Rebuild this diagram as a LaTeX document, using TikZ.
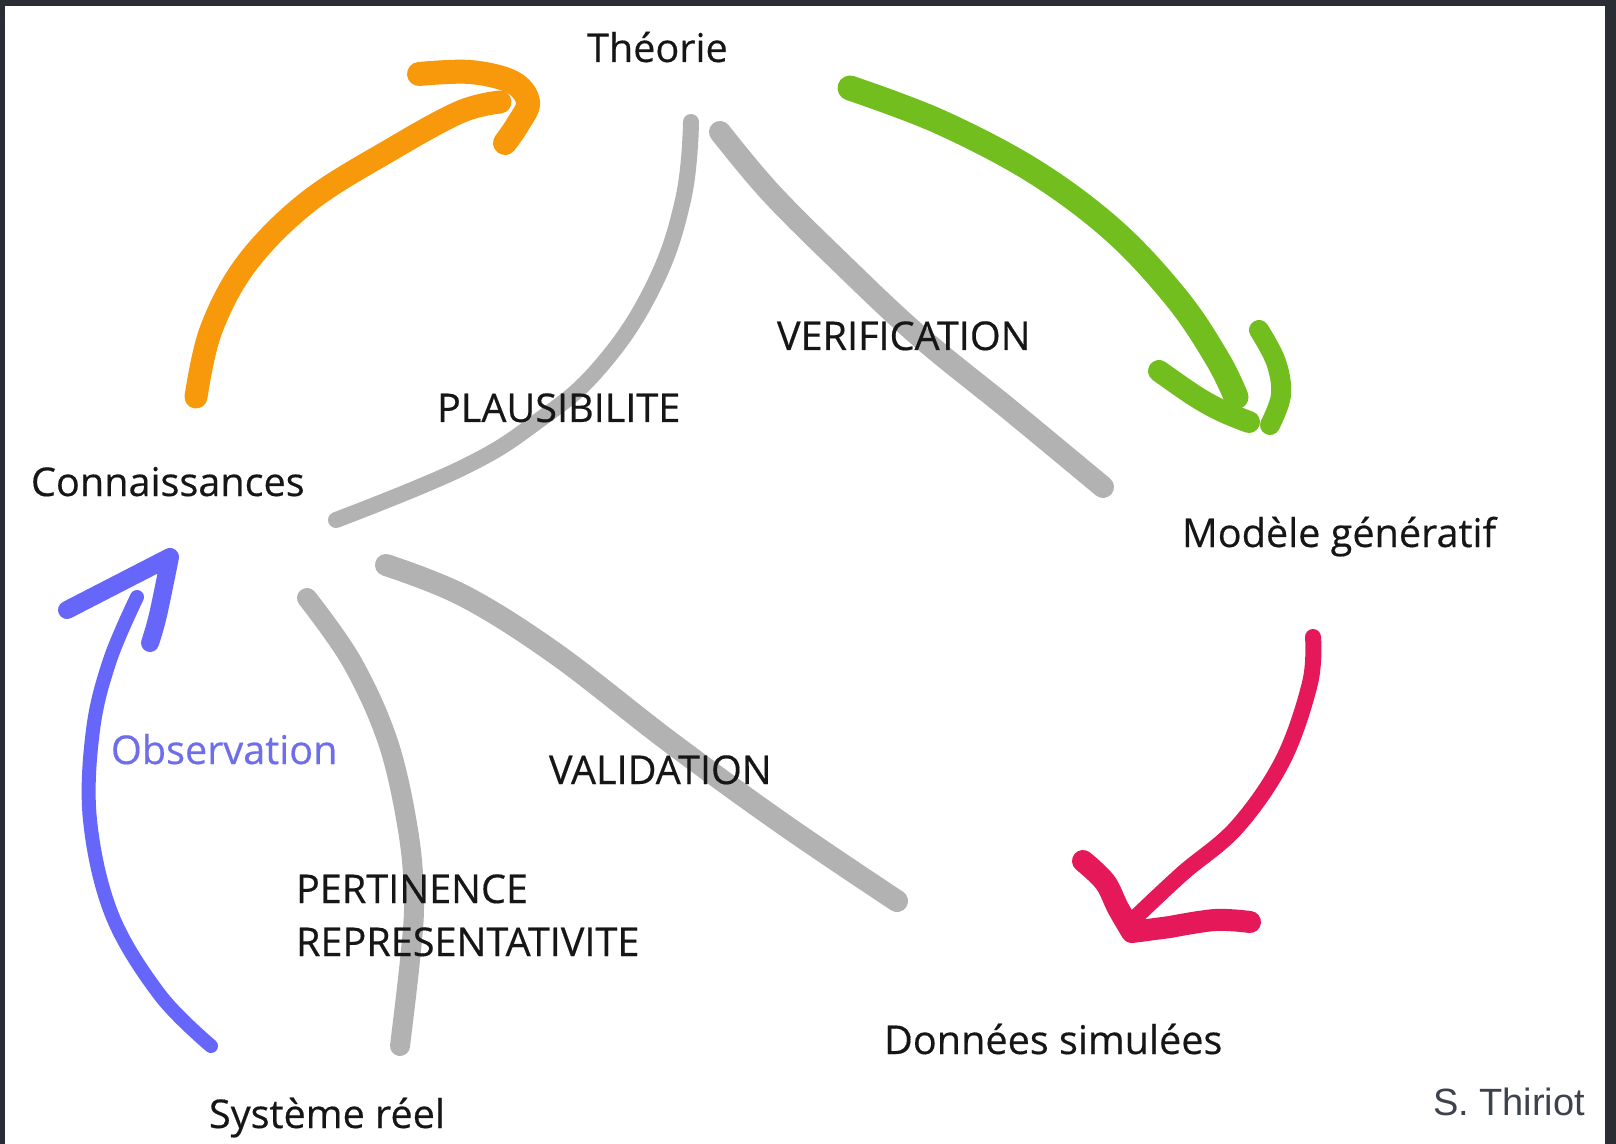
\documentclass[tikz,border=0pt]{standalone}
\usepackage{fontspec}
\setmainfont{Open Sans}
\newfontfamily\lblfont{Open Sans}[FakeBold=0.4]
\newfontfamily\credfont{Liberation Sans}
\definecolor{framec}{RGB}{42,45,52}
\definecolor{txtc}{RGB}{22,22,22}
\definecolor{grayc}{RGB}{178,178,178}
\definecolor{orangec}{RGB}{247,153,10}
\definecolor{greenc}{RGB}{114,190,30}
\definecolor{pinkc}{RGB}{229,25,90}
\definecolor{bluec}{RGB}{102,102,250}
\definecolor{obsc}{RGB}{110,110,235}
\definecolor{credc}{RGB}{62,66,76}
\begin{document}
\begin{tikzpicture}[x=0.5pt,y=-0.5pt,
  lbl/.style={inner sep=0pt, outer sep=0pt, anchor=base west, text=txtc,
              font=\lblfont\fontsize{19.8}{23}\selectfont},
  stroke/.style={line cap=round, line join=round},
  graystroke/.style={stroke, draw=grayc},
  smoothplot/.style={smooth, tension=0.6}]
\useasboundingbox (0,0) rectangle (1616,1144);
\fill[framec] (0,0) rectangle (1616,1144);
\fill[white] (5,6) rectangle (1605,1144);

% named end points
\coordinate (orS) at (196,397);  \coordinate (orE) at (500,102);
\coordinate (orH1) at (419,74);  \coordinate (orH2) at (505,143);
\coordinate (grS) at (850,88);   \coordinate (grE) at (1236,397);
\coordinate (grL1) at (1159,371); \coordinate (grL2) at (1249,422);
\coordinate (grR1) at (1259,330); \coordinate (grR2) at (1270,425);
\coordinate (pkS) at (1313,637); \coordinate (pkE) at (1138,915);
\coordinate (pkH1) at (1083,861); \coordinate (pkH2) at (1250,922);
\coordinate (blS) at (211,1046); \coordinate (blE) at (137,597);
\coordinate (blH1) at (67,610);  \coordinate (blH2) at (150,643);
\coordinate (plS) at (691,122);  \coordinate (plE) at (336,520);
\coordinate (veS) at (720,132);  \coordinate (veE) at (1103,487);
\coordinate (vaS) at (386,565);  \coordinate (vaE) at (897,901);
\coordinate (peS) at (307,598);  \coordinate (peE) at (400,1046);

% gray links (under the labels)
\draw[graystroke, line width=8pt] plot[smooth, tension=0.7] coordinates
  {(plS) (683,200) (653,287) (600,367) (538,421) (462,468) (plE)};
\draw[graystroke, line width=11pt] plot[smoothplot] coordinates
  {(veS) (770,192) (840,262) (920,337) (1010,410) (veE)};
\draw[graystroke, line width=11pt] plot[smoothplot] coordinates
  {(vaS) (464,596) (556,654) (670,742) (783,824) (vaE)};
\draw[graystroke, line width=10pt] plot[smoothplot] coordinates
  {(peS) (352,662) (388,742) (408,830) (414,900) (410,960) (peE)};

% labels
\node[lbl] (theorie) at (587,62) {Théorie};
\node[lbl] (conn) at (31,496) {Connaissances};
\node[lbl] (modele) at (1182,547) {Modèle génératif};
\node[lbl] (donnees) at (884,1054) {Données simulées};
\node[lbl] (systeme) at (209,1128) {Système réel};
\node[lbl, text=obsc] (obs) at (111,764) {Observation};
\node[lbl] (plaus) at (437,422) {PLAUSIBILITE};
\node[lbl] (verif) at (777,350) {VERIFICATION};
\node[lbl] (valid) at (549,784) {VALIDATION};
\node[lbl] (pert) at (296,903) {PERTINENCE};
\node[lbl] (repr) at (296,956) {REPRESENTATIVITE};
\node[lbl, text=credc, font=\credfont\fontsize{19}{22}\selectfont] (cred) at (1433,1115) {S. Thiriot};

% orange arrow (Connaissances -> Theorie)
\draw[stroke, draw=orangec, line width=11.5pt] plot[smoothplot] coordinates
  {(orS) (211,330) (247,263) (309,201) (392,149) (460,112) (orE)};
\draw[stroke, draw=orangec, line width=12pt] plot[smoothplot] coordinates
  {(orH1) (470,72) (512,82) (528,102) (518,124) (orH2)};

% green arrow (Theorie -> Modele)
\draw[stroke, draw=greenc, line width=12.5pt] plot[smoothplot] coordinates
  {(grS) (940,122) (1035,172) (1115,232) (1178,300) (1218,360) (grE)};
\draw[stroke, draw=greenc, line width=11pt] plot[smoothplot] coordinates
  {(grL1) (1195,396) (1222,411) (grL2)};
\draw[stroke, draw=greenc, line width=10pt] plot[smoothplot] coordinates
  {(grR1) (1276,362) (1281,395) (grR2)};

% pink arrow (Modele -> Donnees)
\draw[stroke, draw=pinkc, line width=8pt] plot[smoothplot] coordinates
  {(pkS) (1310,683) (1283,760) (1237,827) (1183,873) (pkE)};
\draw[stroke, draw=pinkc, line width=11pt] plot[smoothplot] coordinates
  {(pkH1) (1105,882) (1118,908) (1132,932)} -- (1170,927)
  plot[smoothplot] coordinates {(1170,927) (1215,920) (pkH2)};

% blue arrow (Systeme -> Connaissances)
\draw[stroke, draw=bluec, line width=7pt] plot[smoothplot] coordinates
  {(blS) (160,995) (112,915) (90,820) (93,730) (110,660) (blE)};
\draw[stroke, draw=bluec, line width=9pt] (blH1) -- (170,557)
  plot[smoothplot] coordinates {(170,557) (158,615) (blH2)};
\end{tikzpicture}
\end{document}
